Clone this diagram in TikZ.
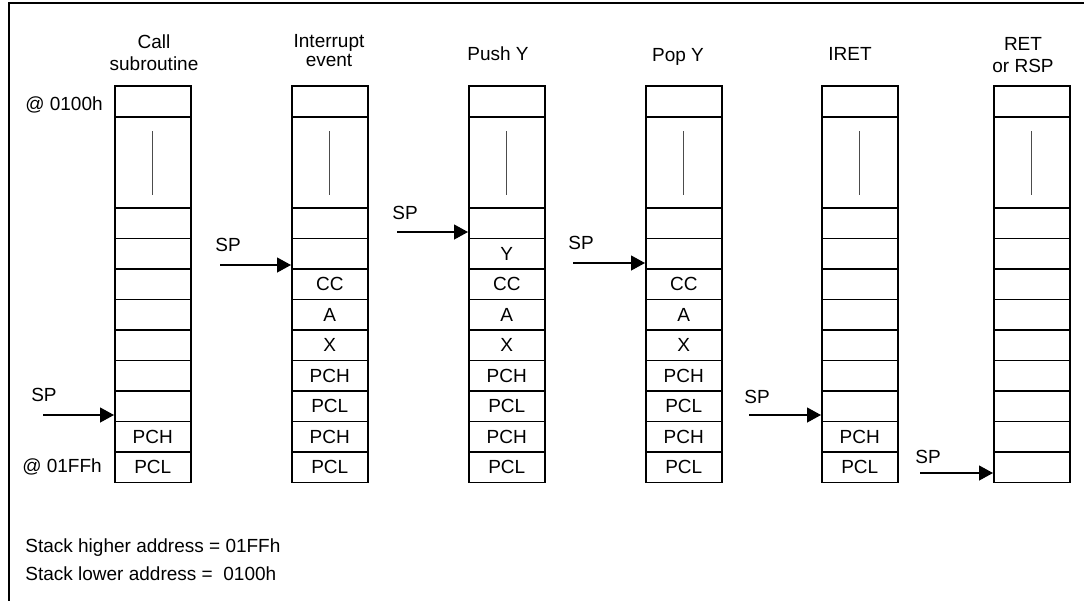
\documentclass[tikz,border=0pt]{standalone}
\usepackage{fontspec}
\setmainfont{Liberation Sans}
\usetikzlibrary{arrows.meta}
\newcommand\stackcol[3]{%
  \node[cell,minimum height=15.5pt] (#1t) at (#2,85) {};
  \node[cell,minimum height=45.5pt] (#1b) at (#2,116) {};
  \draw[bar] ([yshift=-7.5pt]#1b.north) -- ([yshift=7pt]#1b.south);
  \foreach \r/\t in {#3} {
    \node[cell] (#1r\r) at (#2,{207+30.5*(\r-1)}) {\t};
  }
}
\begin{document}
\begin{tikzpicture}[x=0.5pt,y=-0.5pt,
  every node/.style={font=\fontsize{9.5pt}{11pt}\selectfont},
  cell/.style={draw,line width=0.8pt,minimum width=38pt,minimum height=15.25pt,
    inner sep=0pt,anchor=north west},
  bar/.style={draw=black!70,line width=0.6pt},
  sparrow/.style={line width=0.65pt,-{Triangle[length=7pt,width=7.5pt]}},
  lbl/.style={inner sep=0pt},
  title/.style={inner sep=0pt,align=center},
  frame/.style={line width=0.6pt}]
\useasboundingbox (0,0) rectangle (1084,601);
% frame
\coordinate (fbl) at (9,601);
\coordinate (ftl) at (9,3);
\coordinate (ftr) at (1084,3);
\draw[frame] (fbl) -- (ftl) -- (ftr);
% stacks
\stackcol{c1}{114}{1/,2/,3/,4/,5/,6/,7/,8/PCH,9/PCL}
\stackcol{c2}{291}{1/,2/,3/CC,4/A,5/X,6/PCH,7/PCL,8/PCH,9/PCL}
\stackcol{c3}{468}{1/,2/Y,3/CC,4/A,5/X,6/PCH,7/PCL,8/PCH,9/PCL}
\stackcol{c4}{645}{1/,2/,3/CC,4/A,5/X,6/PCH,7/PCL,8/PCH,9/PCL}
\stackcol{c5}{821}{1/,2/,3/,4/,5/,6/,7/,8/PCH,9/PCL}
\stackcol{c6}{993}{1/,2/,3/,4/,5/,6/,7/,8/,9/}
% titles
\node[title] (t1) at (154,52.5) {Call\\subroutine};
\node[title] (t2) at (329,51) {Interrupt\\[-1.5pt]event};
\node[lbl,anchor=base] (t3) at (498,60) {Push Y};
\node[lbl,anchor=base] (t4) at (678,61) {Pop Y};
\node[lbl,anchor=base] (t5) at (850,60) {IRET};
\node[title] (t6) at (1023,55) {RET\\or RSP};
% addresses
\node[lbl,anchor=base] (alow) at (64,110) {@ 0100h};
\node[lbl,anchor=base] (ahigh) at (62,472) {@ 01FFh};
% SP labels and arrows
\node[lbl] (sp1) at (44,395) {SP};
\node[lbl] (sp2) at (228,245) {SP};
\node[lbl] (sp3) at (405,213) {SP};
\node[lbl] (sp4) at (581,243) {SP};
\node[lbl] (sp5) at (757,397) {SP};
\node[lbl] (sp6) at (928,457) {SP};
\coordinate (a1) at (43,415);
\coordinate (a2) at (220,265);
\coordinate (a3) at (397,232);
\coordinate (a4) at (573,263);
\coordinate (a5) at (749,415);
\coordinate (a6) at (920,473);
\draw[sparrow] (a1) -- (c1r7.west |- a1);
\draw[sparrow] (a2) -- (c2r2.west |- a2);
\draw[sparrow] (a3) -- (c3r1.west |- a3);
\draw[sparrow] (a4) -- (c4r2.west |- a4);
\draw[sparrow] (a5) -- (c5r7.west |- a5);
\draw[sparrow] (a6) -- (c6r9.west |- a6);
% notes
\node[lbl,anchor=base west] (n1) at (25,552) {Stack higher address = 01FFh};
\node[lbl,anchor=base west] (n2) at (25,580) {Stack lower address = \ 0100h};
\end{tikzpicture}
\end{document}
